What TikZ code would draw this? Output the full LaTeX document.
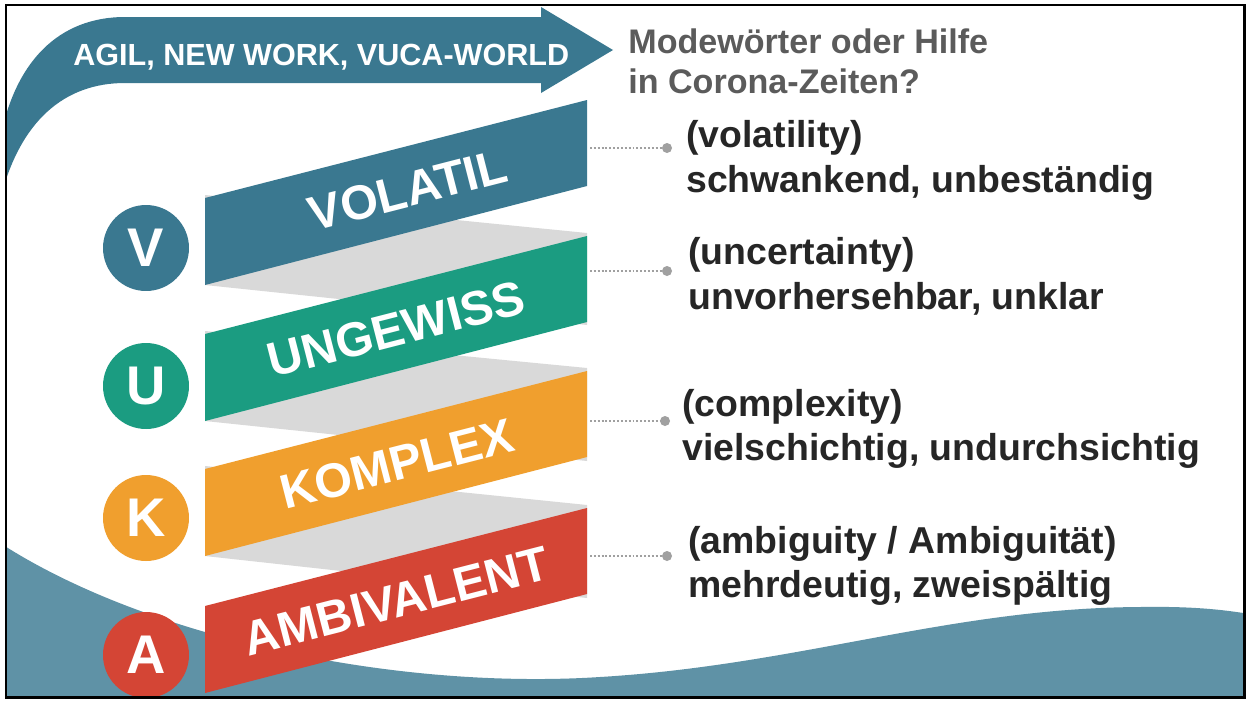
\documentclass[tikz,border=0pt]{standalone}
\usepackage{fontspec}
\setmainfont{Liberation Sans}
\definecolor{cV}{HTML}{3A7890}
\definecolor{cU}{HTML}{1B9C81}
\definecolor{cK}{HTML}{F09F2E}
\definecolor{cA}{HTML}{D44535}
\definecolor{wave}{HTML}{5F92A6}
\definecolor{fold}{HTML}{D9D9D9}
\definecolor{dark}{HTML}{262626}
\definecolor{head}{HTML}{5B5B5B}
\definecolor{dotc}{HTML}{A0A0A0}
\tikzset{
  circ/.style={circle, inner sep=0pt, minimum size=1.72cm, text=white,
    font=\fontsize{31pt}{31pt}\selectfont\bfseries},
  ribtext/.style={text=white, inner sep=0pt, rotate=14.4,
    font=\fontsize{27.5pt}{27.5pt}\selectfont\bfseries},
  rtext/.style={text=dark, inner sep=0pt, anchor=base west,
    font=\fontsize{21.3pt}{25pt}\selectfont\bfseries},
  htext/.style={text=head, inner sep=0pt, anchor=base west,
    font=\fontsize{19.4pt}{23pt}\selectfont\bfseries},
  dotnode/.style={circle, fill=dotc, inner sep=0pt, minimum size=0.2cm},
  dotline/.style={dotc, line width=0.85pt, dash pattern=on 1.1pt off 1.1pt}
}
\begin{document}
\begin{tikzpicture}[x=0.02cm,y=-0.02cm]
\useasboundingbox (0,0) rectangle (1250,700);
\fill[white] (0,0) rectangle (1250,700);
\begin{scope}
\clip (6,5) rectangle (1244,697);
% bottom wave
\fill[wave] (0,543) .. controls (150,640) and (400,690) .. (600,677)
  .. controls (800,665) and (950,608) .. (1140,607)
  .. controls (1200,606) and (1230,611) .. (1250,614) -- (1250,700) -- (0,700) -- cycle;
% top curved arrow
\fill[cV] (0,140) .. controls (15,60) and (60,17) .. (125,17) -- (541,17) -- (541,7)
  -- (613,50) -- (541,93) -- (541,83) -- (125,83)
  .. controls (65,83) and (20,120) .. (0,200) -- cycle;
\end{scope}
\node[text=white, inner sep=0pt, anchor=base west,
  font=\fontsize{17.4pt}{17.4pt}\selectfont\bfseries] (agil) at (73,65) {AGIL, NEW WORK, VUCA-WORLD};
\node[htext] (h1) at (628,53) {Modewörter oder Hilfe};
\node[htext] (h2) at (628,93) {in Corona-Zeiten?};
% folds
\fill[fold] (205,195) -- (587,233) -- (587,325) -- (205,285) -- cycle;
\fill[fold] (205,331) -- (587,368) -- (587,461) -- (205,421) -- cycle;
\fill[fold] (205,466) -- (587,505) -- (587,598) -- (205,556) -- cycle;
% ribbons
\fill[cV] (205,198) -- (587,100) -- (587,186) -- (205,285) -- cycle;
\fill[cU] (205,334) -- (587,236) -- (587,322) -- (205,421) -- cycle;
\fill[cK] (205,469) -- (587,371) -- (587,457) -- (205,556) -- cycle;
\fill[cA] (205,606) -- (587,508) -- (587,594) -- (205,693) -- cycle;
\node[ribtext] (tV) at (408,190) {VOLATIL};
\node[ribtext] (tU) at (396,329) {UNGEWISS};
\node[ribtext] (tK) at (397,464) {KOMPLEX};
\node[ribtext] (tA) at (396,601) {AMBIVALENT};
% circles
\node[circ, fill=cV] (cirV) at (146,248) {V};
\node[circ, fill=cU] (cirU) at (146,386) {U};
\node[circ, fill=cK] (cirK) at (146,518) {K};
\node[circ, fill=cA] (cirA) at (146,655) {A};
% connectors
\coordinate (rV) at (590,148);
\coordinate (rU) at (590,271);
\coordinate (rK) at (590,421);
\coordinate (rA) at (590,556);
\node[dotnode] (dV) at (667,148) {};
\node[dotnode] (dU) at (667,271) {};
\node[dotnode] (dK) at (665,421) {};
\node[dotnode] (dA) at (667,556) {};
\draw[dotline] (rV) -- (dV);
\draw[dotline] (rU) -- (dU);
\draw[dotline] (rK) -- (dK);
\draw[dotline] (rA) -- (dA);
% right texts
\node[rtext] (v1) at (686,147) {(volatility)};
\node[rtext] (v2) at (686,192) {schwankend, unbeständig};
\node[rtext] (u1) at (688,264) {(uncertainty)};
\node[rtext] (u2) at (688,309) {unvorhersehbar, unklar};
\node[rtext] (k1) at (682,416) {(complexity)};
\node[rtext] (k2) at (682,460) {vielschichtig, undurchsichtig};
\node[rtext] (a1) at (688,553) {(ambiguity / Ambiguität)};
\node[rtext] (a2) at (688,597) {mehrdeutig, zweispältig};
% frame
\draw[line width=1.7pt] (6,5) rectangle (1244,697);
\end{tikzpicture}
\end{document}
